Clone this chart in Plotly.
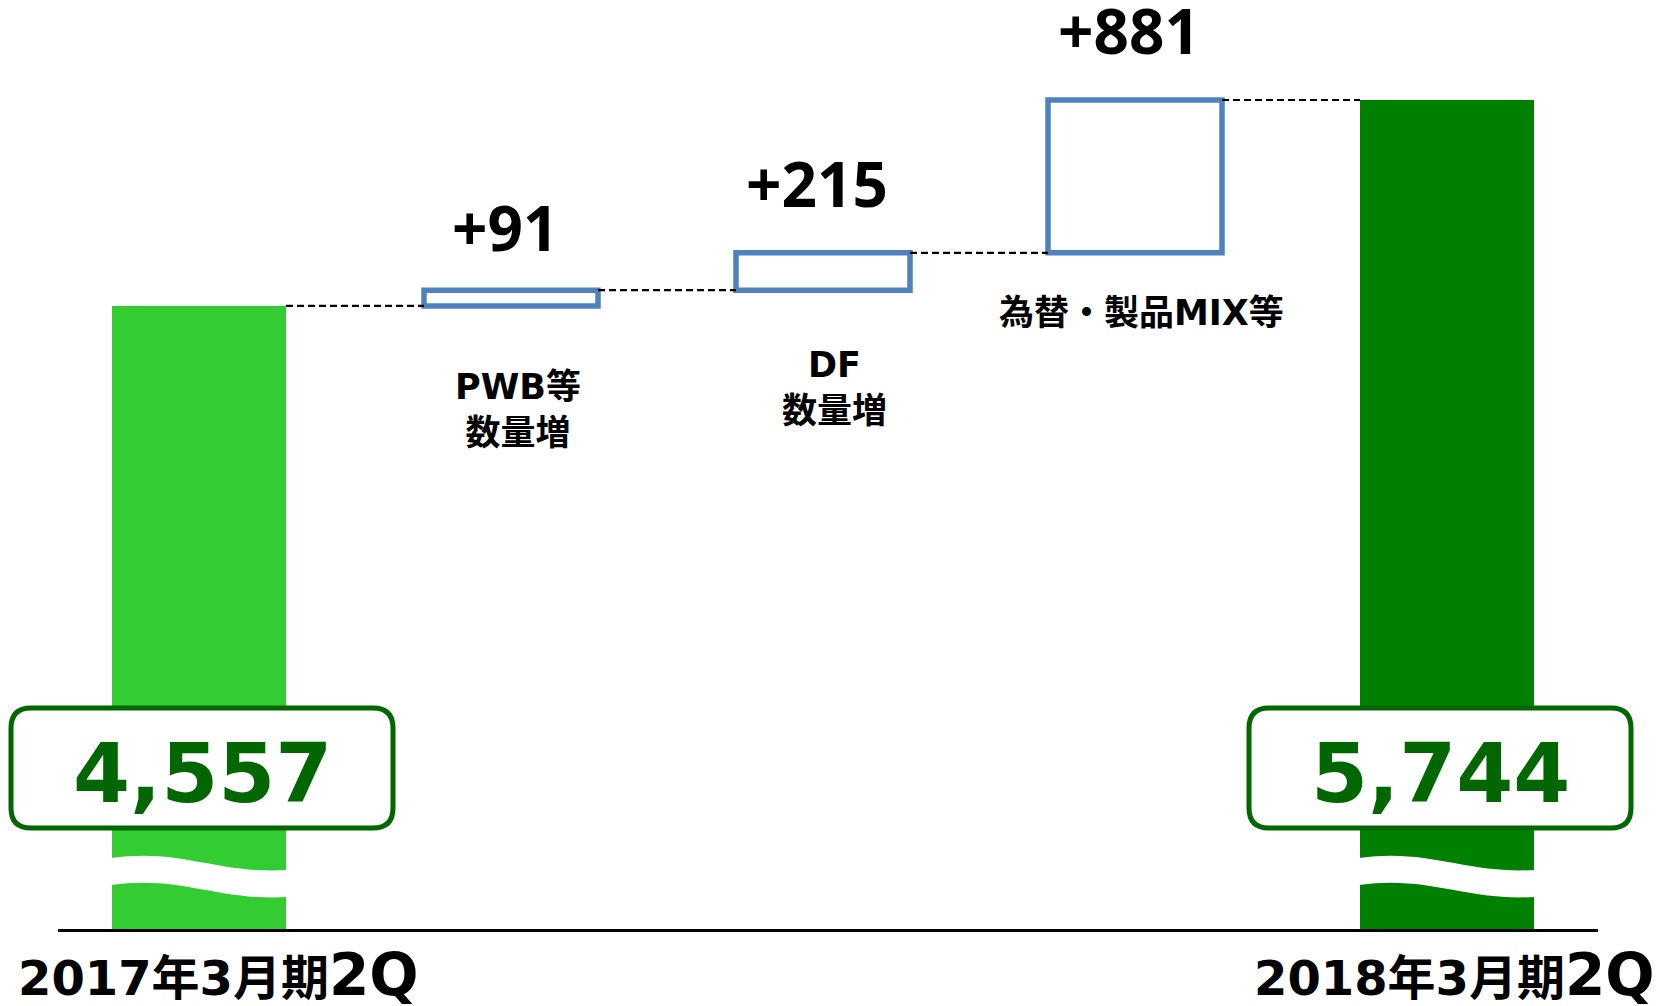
import plotly.graph_objects as go

# ---- values -----------------------------------------------------------------
periods = ["2017年3月期", "2018年3月期"]
period_suffix = "2Q"
start_total = 4557
end_total = 5744
drivers = ["PWB等<br>数量増", "DF<br>数量増", "為替・製品MIX等"]
driver_deltas = [91, 215, 881]

# ---- colours ----------------------------------------------------------------
START_GREEN = "#33CC33"
END_GREEN = "#008000"
LABEL_GREEN = "#006600"
STEP_BLUE = "#4F81BD"

# ---- geometry (pixels) ------------------------------------------------------
FIG_W, FIG_H = 1659, 1006
M_L, M_R, M_T, M_B = 58, 61, 0, 77
PLOT_W = FIG_W - M_L - M_R
PLOT_H = FIG_H - M_T - M_B
SLOT_PX = 312            # distance between neighbouring columns
FIRST_CENTER_PX = 141    # centre of the first column from the plot's left edge
PX_PER_UNIT = 0.1735     # vertical scale of the (cut) value axis
Y_FLOOR = 966            # value sitting on the axis line
BAR_PX = 174

x_min = -FIRST_CENTER_PX / SLOT_PX
x_max = x_min + PLOT_W / SLOT_PX
y_min = Y_FLOOR
y_max = Y_FLOOR + PLOT_H / PX_PER_UNIT
bar_w = BAR_PX / SLOT_PX


def ux(px):
    return px / SLOT_PX


def uy(px):
    return px / PX_PER_UNIT


def paper_x(xv):
    return (xv - x_min) / (x_max - x_min)


def paper_y(yv):
    return (yv - y_min) / (y_max - y_min)


# running level after each column
levels = [start_total]
for d in driver_deltas:
    levels.append(levels[-1] + d)

n_cols = len(drivers) + 2
end_x = n_cols - 1
driver_x = list(range(1, len(drivers) + 1))

FONT_WIDE = "DejaVu Sans, Noto Sans CJK JP, sans-serif"
FONT_STEP = "Noto Sans, DejaVu Sans, sans-serif"

fig = go.Figure()

# opening total
fig.add_bar(x=[0], y=[start_total], width=bar_w,
            marker=dict(color=START_GREEN, line=dict(width=0)),
            hoverinfo="skip")
# increments as hollow boxes
fig.add_bar(x=driver_x, y=driver_deltas, base=levels[:-1], width=bar_w,
            marker=dict(color="white", line=dict(color=STEP_BLUE, width=5.5)),
            hoverinfo="skip")
# closing total
fig.add_bar(x=[end_x], y=[end_total], width=bar_w,
            marker=dict(color=END_GREEN, line=dict(width=0)),
            hoverinfo="skip")

# dashed connectors between neighbouring columns
cx, cy = [], []
for i, lvl in enumerate(levels):
    cx += [i + bar_w / 2, i + 1 - bar_w / 2, None]
    cy += [lvl, lvl, None]
fig.add_scatter(x=cx, y=cy, mode="lines",
                line=dict(color="black", width=2.2, dash="7px,4px"),
                hoverinfo="skip")

annotations = []
shapes = []

# step values above the boxes
value_yshift = [19, 26, 26]
for xi, d, lvl, ys in zip(driver_x, driver_deltas, levels[1:], value_yshift):
    annotations.append(dict(
        x=xi, y=lvl, xref="x", yref="y", text=f"<b>+{d}</b>",
        showarrow=False, yanchor="bottom", yshift=ys, xshift=-6,
        font=dict(family=FONT_STEP, size=62, color="black")))

# driver descriptions below the boxes
label_yshift = [-59, -53, -38]
label_xshift = [7, 11, 6]
for xi, txt, lvl, ys, xs in zip(driver_x, drivers, levels[:-1], label_yshift, label_xshift):
    annotations.append(dict(
        x=xi, y=lvl, xref="x", yref="y", text=f"<b>{txt}</b>",
        showarrow=False, yanchor="top", yshift=ys, xshift=xs,
        font=dict(family=FONT_WIDE, size=35, color="black")))

# axis-break waves on the two total bars
wave_c = Y_FLOOR + uy(53)
for xi in (0, end_x):
    xl = xi - bar_w / 2 - ux(1)
    xr = xi + bar_w / 2 + ux(1)
    w = xr - xl
    p = (f"M {xl},{wave_c + uy(18)} "
         f"C {xl + 0.4 * w},{wave_c + uy(28)} {xl + 0.6 * w},{wave_c + uy(2)} {xr},{wave_c + uy(6)} "
         f"L {xr},{wave_c - uy(21)} "
         f"C {xl + 0.6 * w},{wave_c - uy(25)} {xl + 0.4 * w},{wave_c + uy(1)} {xl},{wave_c - uy(9)} Z")
    shapes.append(dict(type="path", path=p, xref="x", yref="y",
                       fillcolor="white", line=dict(width=0), layer="above"))

# rounded value badges on the total bars (paper refs so they may leave the plot area)
badge_c = Y_FLOOR + uy(161)
hw, hh, r = 191, 60, 20
badge_xshift = [3, -7]
for (xi, v), bxs in zip(((0, start_total), (end_x, end_total)), badge_xshift):
    xc = xi + ux(bxs)
    x0, x1 = paper_x(xc - ux(hw)), paper_x(xc + ux(hw))
    y0, y1 = paper_y(badge_c - uy(hh)), paper_y(badge_c + uy(hh))
    rx, ry = r / PLOT_W, r / PLOT_H
    p = (f"M {x0 + rx},{y1} L {x1 - rx},{y1} Q {x1},{y1} {x1},{y1 - ry} "
         f"L {x1},{y0 + ry} Q {x1},{y0} {x1 - rx},{y0} "
         f"L {x0 + rx},{y0} Q {x0},{y0} {x0},{y0 + ry} "
         f"L {x0},{y1 - ry} Q {x0},{y1} {x0 + rx},{y1} Z")
    shapes.append(dict(type="path", path=p, xref="paper", yref="paper",
                       fillcolor="white", line=dict(color=LABEL_GREEN, width=5),
                       layer="above"))
    annotations.append(dict(
        x=xc, y=badge_c, xref="x", yref="y", text=f"<b>{v:,}</b>",
        showarrow=False, yanchor="middle", yshift=-5,
        font=dict(family=FONT_WIDE, size=82, color=LABEL_GREEN)))

# period labels under the axis
for txt, xpx, anchor in ((periods[0], 16, "left"), (periods[1], 1657, "right")):
    annotations.append(dict(
        x=(xpx - M_L) / PLOT_W, y=-(975 - PLOT_H) / PLOT_H,
        xref="paper", yref="paper", xanchor=anchor, yanchor="middle",
        text=f"<b>{txt}<span style='font-size:58px'>{period_suffix}</span></b>",
        showarrow=False,
        font=dict(family=FONT_WIDE, size=48, color="black")))

fig.update_layout(
    width=FIG_W, height=FIG_H,
    margin=dict(l=M_L, r=M_R, t=M_T, b=M_B, pad=0),
    paper_bgcolor="white", plot_bgcolor="white",
    barmode="overlay", showlegend=False,
    xaxis=dict(range=[x_min, x_max], showgrid=False, zeroline=False,
               showticklabels=False, ticks="", showline=True,
               linecolor="black", linewidth=3, fixedrange=True),
    yaxis=dict(range=[y_min, y_max], visible=False, fixedrange=True),
    annotations=annotations,
    shapes=shapes,
)

fig.write_html("out.html", config={"displayModeBar": False})
